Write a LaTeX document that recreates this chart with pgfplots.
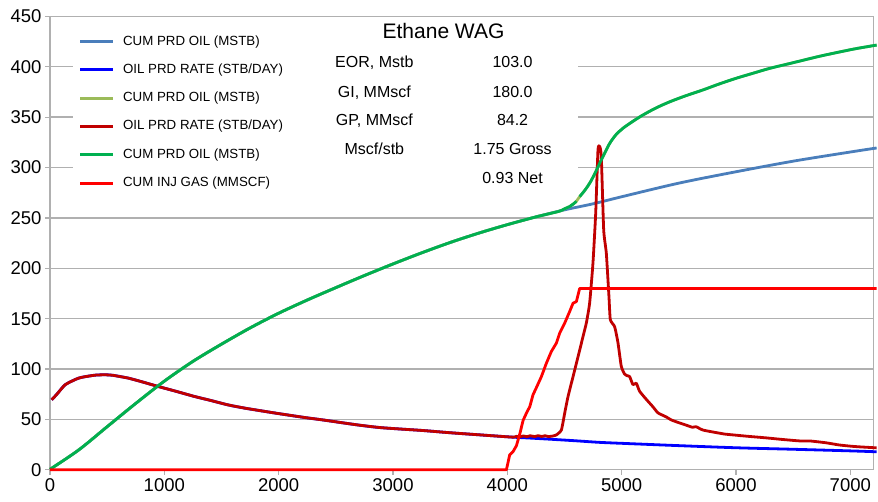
\documentclass[border=0pt]{standalone}
\usepackage{fontspec}
\setmainfont{Liberation Sans}
\usepackage{pgfplots}
\pgfplotsset{compat=1.18}
\definecolor{cumbase}{HTML}{4A7EBB}
\definecolor{ratebase}{HTML}{0000FF}
\definecolor{olivec}{HTML}{9BBB59}
\definecolor{ratewag}{HTML}{C00000}
\definecolor{cumwag}{HTML}{00B050}
\definecolor{injgas}{HTML}{FF0000}
\definecolor{gridc}{HTML}{B0B0B0}
\begin{document}
\begin{tikzpicture}
\begin{axis}[
  scale only axis, width=823.5pt, height=453.6pt,
  xmin=0, xmax=7200, ymin=0, ymax=450,
  clip=false,
  unbounded coords=jump,
  xtick={0,1000,...,7000}, ytick={0,50,...,450},
  axis x line*=bottom, axis y line*=left,
  axis line style={draw=gridc, line width=1.3pt, -},
  ymajorgrids, major grid style={draw=gridc, line width=1.3pt},
  tick style={draw=gridc, line width=1.2pt},
  tick align=outside, major tick length=5pt,
  tick label style={font=\fontsize{18.5}{20}\selectfont},
  /pgf/number format/assume math mode=true,
  /pgf/number format/set thousands separator={},
  legend style={at={(axis description cs:0.0279,0.9812)}, anchor=north west,
    fill=white, draw=none, inner xsep=7pt, inner ysep=10pt,
    font=\fontsize{13.3}{16}\selectfont,
    nodes={inner sep=0pt, text height=10pt, text depth=3pt},
    column sep=10pt, row sep=15.3pt},
  legend cell align=left,
  every axis plot/.append style={line width=2.8pt, line join=round,
    legend image code/.code={\fill[##1, draw=none] (0pt,-1.5pt) rectangle (33pt,1.5pt);}},
]
\fill[white] (axis cs:201,272.8) rectangle (axis cs:4617,441.5);
\draw[gridc, line width=1.3pt] (rel axis cs:1,0) -- (rel axis cs:1,1);

% 1 CUM PRD OIL base
\addplot[cumbase, smooth, tension=0.5] coordinates {
(0,0.5) (250,19.6) (500,42.8) (750,65.9) (1000,88) (1250,107.6) (1500,124.7) (1750,140.8)
(2000,155.4) (2250,168.5) (2500,180.8) (2750,192.8) (3000,204.3) (3250,215.3) (3500,225.6)
(3750,234.9) (4000,243.3) (4250,251) (4500,258) (4750,264) (5000,271) (5500,284.5)
(6000,295.8) (6500,306.3) (7000,315.4) (7230,319.4)};
\addlegendentry{CUM PRD OIL (MSTB)}

% 2 OIL PRD RATE base
\addplot[ratebase, smooth, tension=0.5] coordinates {
(15,69.5) (60,75) (131,84.3) (200,88.5) (248,90.9) (300,92.3) (400,94) (481,94.3) (550,93.8)
(685,91) (800,87.5) (947,82.7) (1100,78) (1267,72.7) (1400,69) (1559,64.4) (1700,61.3)
(1850,58.5) (2000,55.8) (2229,51.9) (2400,49.3) (2681,44.7) (2900,41.8) (3263,39) (3500,36.8)
(3846,34) (4050,32.4) (4200,31.5) (4400,30.2) (4600,28.8) (4800,27.3) (5000,26.3) (5500,24)
(6000,21.9) (6500,20.4) (7000,18.8) (7230,17.9)};
\addlegendentry{OIL PRD RATE (STB/DAY)}

% 3 CUM PRD OIL (hidden under green)
\addplot[olivec, smooth, tension=0.5] coordinates {
(0,0.5) (250,19.6) (500,42.8) (750,65.9) (1000,88) (1250,107.6) (1500,124.7) (1750,140.8)
(2000,155.4) (2250,168.5) (2500,180.8) (2750,192.8) (3000,204.3) (3250,215.3) (3500,225.6)
(3750,234.9) (4000,243.3) (4250,251) (4450,256.5) (4500,259) (4545,261.3) (4575,263.6)
(4604,266.5) (4633,271.1) (4680,277.7) (4720,284.4) (4760,292.7) (4808,304.3) (4850,313.9)
(4895,323.9) (4950,332.5) (5012,339) (5100,346) (5186,352.1) (5300,359.1) (5420,365.2)
(5560,371.2) (5711,377) (5850,382.8) (6002,388.6) (6150,393.6) (6294,398.4) (6440,402.4)
(6585,406.4) (6730,410.4) (6877,414) (7050,418) (7230,421.5)};
\addlegendentry{CUM PRD OIL (MSTB)}

% 4 OIL PRD RATE WAG
\addplot[ratewag, smooth, tension=0.3] coordinates {
(15,69.5) (60,75) (131,84.3) (200,88.5) (248,90.9) (300,92.3) (400,94) (481,94.3) (550,93.8)
(685,91) (800,87.5) (947,82.7) (1100,78) (1267,72.7) (1400,69) (1559,64.4) (1700,61.3)
(1850,58.5) (2000,55.8) (2229,51.9) (2400,49.3) (2681,44.7) (2900,41.8) (3263,39) (3500,36.8)
(3846,34) (4050,32.4) (4080,33.2) (4110,32.8) (4140,33.6) (4170,32.9) (4200,33.8) (4240,33)
(4270,33.9) (4300,33.1) (4330,33.8) (4360,33) (4400,33.6) (4430,34.7) (4473,39.6) (4502,56.3)
(4531,72.7) (4575,92.5) (4604,105.6) (4633,118.7) (4662,132.3) (4691,145.6) (4720,165.4)
(4749,205) (4773,254.5) (4793,317.5) (4808,321) (4822,311) (4843,238) (4866,215) (4889,172)
(4901,149) (4939,142) (4968,126) (4997,102.6) (5026,95) (5045,93.5) (5070,92.5) (5099,84.5)
(5128,86) (5157,78) (5215,70) (5274,62.5) (5318,56.5) (5390,52.5) (5434,49.5) (5507,46.5)
(5560,44.5) (5620,42.2) (5650,42.8) (5710,39.5) (5800,37.5) (5900,35.5) (5970,34.7)
(6100,33.3) (6265,31.7) (6400,30.2) (6555,28.7) (6650,28.6) (6790,26.8) (6900,24.7)
(7000,23.5) (7080,22.8) (7230,21.8)};
\addlegendentry{OIL PRD RATE (STB/DAY)}

% 5 CUM PRD OIL WAG
\addplot[cumwag, smooth, tension=0.5] coordinates {
(0,0.5) (250,19.6) (500,42.8) (750,65.9) (1000,88) (1250,107.6) (1500,124.7) (1750,140.8)
(2000,155.4) (2250,168.5) (2500,180.8) (2750,192.8) (3000,204.3) (3250,215.3) (3500,225.6)
(3750,234.9) (4000,243.3) (4250,251) (4450,256.5) (4500,259) (4545,261.3) (4575,263.6)
(4604,266.5) (4618,nan) (4633,271.1) (4680,277.7) (4720,284.4) (4760,292.7) (4808,304.3) (4850,313.9)
(4895,323.9) (4950,332.5) (5012,339) (5100,346) (5186,352.1) (5300,359.1) (5420,365.2)
(5560,371.2) (5711,377) (5850,382.8) (6002,388.6) (6150,393.6) (6294,398.4) (6440,402.4)
(6585,406.4) (6730,410.4) (6877,414) (7050,418) (7230,421.5)};
\addlegendentry{CUM PRD OIL (MSTB)}

% 6 CUM INJ GAS
\addplot[injgas] coordinates {
(0,0) (3992,0) (4021,14.9) (4050,18) (4080,24) (4110,36) (4138,49) (4170,57) (4196,62.5)
(4225,74.5) (4260,83) (4298,92.5) (4341,105.6) (4385,117.4) (4429,125.7) (4458,135.6)
(4502,145.6) (4545,157) (4575,165.4) (4604,167) (4633,180) (7230,180)};
\addlegendentry{CUM INJ GAS (MMSCF)}

\node[anchor=base, font=\fontsize{21}{24}\selectfont] at (axis cs:3442,428.4) {Ethane WAG};
\node[anchor=base, font=\fontsize{16}{18}\selectfont] at (axis cs:2837,399.4) {EOR, Mstb};
\node[anchor=base, font=\fontsize{16}{18}\selectfont] at (axis cs:2837,369.6) {GI, MMscf};
\node[anchor=base, font=\fontsize{16}{18}\selectfont] at (axis cs:2837,341.5) {GP, MMscf};
\node[anchor=base, font=\fontsize{16}{18}\selectfont] at (axis cs:2837,312.5) {Mscf/stb};
\node[anchor=base, font=\fontsize{16}{18}\selectfont] at (axis cs:4046,399.4) {103.0};
\node[anchor=base, font=\fontsize{16}{18}\selectfont] at (axis cs:4046,369.6) {180.0};
\node[anchor=base, font=\fontsize{16}{18}\selectfont] at (axis cs:4046,341.5) {84.2};
\node[anchor=base, font=\fontsize{16}{18}\selectfont] at (axis cs:4046,312.5) {1.75 Gross};
\node[anchor=base, font=\fontsize{16}{18}\selectfont] at (axis cs:4046,283.7) {0.93 Net};
\end{axis}
\path ([xshift=-50pt,yshift=-32pt]current axis.south west) rectangle ([xshift=4.5pt,yshift=16.4pt]current axis.north east);
\end{tikzpicture}
\end{document}
